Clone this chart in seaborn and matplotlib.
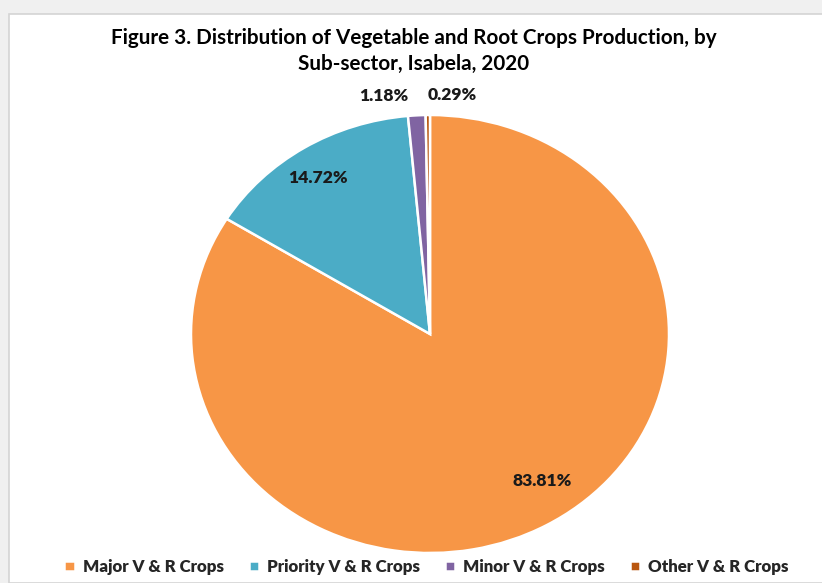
import numpy as np
import matplotlib.pyplot as plt
import seaborn as sns
from matplotlib.patches import Rectangle

sns.set_theme(style="white")
plt.rcParams['font.family'] = ['Lato', 'DejaVu Sans']

# dados
categories = ['Major V & R Crops', 'Priority V & R Crops', 'Minor V & R Crops', 'Other V & R Crops']
shares = [83.81, 14.72, 1.18, 0.29]
labels = ['83.81%', '14.72%', '1.18%', '0.29%']
colors = ['#F79646', '#4BACC6', '#8064A2', '#B9560F']

W, H = 822, 583
fig = plt.figure(figsize=(W / 100, H / 100), dpi=100, facecolor='#F0F0F0')

# moldura branca do grafico (com sombra cinza no topo e a esquerda)
fig.patches.append(Rectangle((9 / W, 0), 1, 1 - 14 / H, transform=fig.transFigure,
                             facecolor='white', edgecolor='#D4D4D4', linewidth=1.2, zorder=-5))

# eixo posicionado para a elipse da pizza (imagem original esticada na horizontal)
ax = fig.add_axes([191 / W, 30 / H, 478 / W, 438 / H])
ax.patch.set_alpha(0)
wedges, _ = ax.pie(shares, colors=colors, startangle=90, counterclock=False, radius=1,
                   wedgeprops=dict(edgecolor='white', linewidth=1.8))
ax.set_aspect('auto')
ax.set_xlim(-1, 1)
ax.set_ylim(-1, 1)
ax.axis('off')

# rotulos de porcentagem (fator radial em x e y, como o Excel posiciona)
dist = [(0.96, 0.77), (0.89, 0.84), (1.09, 1.09), (1.09, 1.09)]
for i, (w, lab, d) in enumerate(zip(wedges, labels, dist)):
    ang = np.deg2rad((w.theta1 + w.theta2) / 2)
    x, y = d[0] * np.cos(ang), d[1] * np.sin(ang)
    ha = 'center'
    if i == 2:
        ha = 'right'
        x -= 0.03
    elif i == 3:
        ha = 'left'
    ax.text(x, y, lab, ha=ha, va='center', fontsize=12.6, fontweight='heavy', color='#1a1a1a',
            clip_on=False)

fig.text(0.503, 1 - 38 / H, 'Figure 3. Distribution of Vegetable and Root Crops Production, by',
         ha='center', va='center', fontsize=14.9, fontweight='bold', color='black')
fig.text(0.503, 1 - 64 / H, 'Sub-sector, Isabela, 2020',
         ha='center', va='center', fontsize=14.9, fontweight='bold', color='black')

fig.legend(wedges, categories, loc='center', bbox_to_anchor=(0.519, 16 / H), ncol=4,
           frameon=False, prop={'weight': 'heavy', 'size': 12.2},
           handlelength=0.6, handleheight=0.6, handletextpad=0.5, columnspacing=1.45)

fig.savefig('out.png', dpi=100, facecolor=fig.get_facecolor())
